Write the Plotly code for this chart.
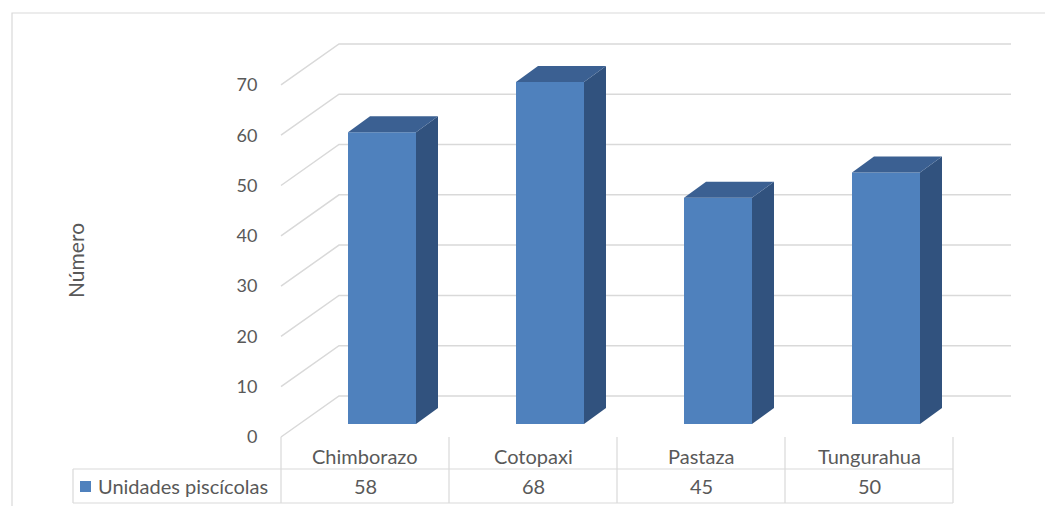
import plotly.graph_objects as go

# ---------------- data ----------------
categories = ["Chimborazo", "Cotopaxi", "Pastaza", "Tungurahua"]
values = [58, 68, 45, 50]
series_name = "Unidades piscícolas"
y_ticks = [0, 10, 20, 30, 40, 50, 60, 70]
y_title = "Número"

# ---------------- style / geometry ----------------
W, H = 1045, 506
FONT = "Lato"
TXT = "#595959"
GRID = "#d9d9d9"
FRONT = "#4f81bd"
SIDE = "#31527e"
TOP = "#3b6092"

PX_PER_CAT = 168.0
PX_PER_UNIT = 5.03
X0_PX = 365.0      # pixel of category 0 centre (front plane)
Y0_PX = 437.0      # pixel of value 0 (front plane)
ML = 276           # plot area left

# depth offsets (in data units)
DX, DY = 58 / PX_PER_CAT, 41 / PX_PER_UNIT          # front plane -> back wall
BX0, BY0 = 17 / PX_PER_CAT, 13 / PX_PER_UNIT        # front plane -> bar front face
BDX, BDY = 22 / PX_PER_CAT, 16 / PX_PER_UNIT        # bar depth
BW = 68 / PX_PER_CAT                                # bar width

x_range = [(ML - X0_PX) / PX_PER_CAT, (W - X0_PX) / PX_PER_CAT]
y_range = [(Y0_PX - H) / PX_PER_UNIT, Y0_PX / PX_PER_UNIT]

n = len(categories)
xs = list(range(n))
x_left, x_right = -0.5, n - 0.5


def py(px):
    """pixel row -> paper y"""
    return 1 - px / H


def pxx(px):
    """pixel column -> paper x (paper spans the plot area)"""
    return (px - ML) / (W - ML)


fig = go.Figure()

# front faces of the columns
fig.add_trace(go.Bar(
    x=[i + BX0 for i in xs], y=values, base=[BY0] * n, width=BW,
    marker=dict(color=FRONT, line=dict(width=0)),
    name=series_name, showlegend=False, hoverinfo="skip",
))

# side and top faces
for i, v in zip(xs, values):
    xl = i + BX0 - BW / 2
    xr = i + BX0 + BW / 2
    yb = BY0
    yt = BY0 + v
    fig.add_trace(go.Scatter(
        x=[xr, xr + BDX, xr + BDX, xr, xr],
        y=[yb, yb + BDY, yt + BDY, yt, yb],
        fill="toself", fillcolor=SIDE, mode="lines", line=dict(width=0),
        showlegend=False, hoverinfo="skip",
    ))
    fig.add_trace(go.Scatter(
        x=[xl, xr, xr + BDX, xl + BDX, xl],
        y=[yt, yt, yt + BDY, yt + BDY, yt],
        fill="toself", fillcolor=TOP, mode="lines", line=dict(width=0),
        showlegend=False, hoverinfo="skip",
    ))

shapes = []
# gridlines: diagonal on side wall + horizontal on back wall
for v in y_ticks:
    path = (f"M {x_left},{v} L {x_left + DX},{v + DY} "
            f"L {x_right + DX},{v + DY}")
    shapes.append(dict(type="path", path=path, xref="x", yref="y",
                       line=dict(color=GRID, width=1.5), layer="below"))

# data table lines
t_top, t_mid, t_bot = py(437), py(469), py(503)
for k in range(n + 1):
    shapes.append(dict(type="line", xref="x", yref="paper",
                       x0=x_left + k, x1=x_left + k, y0=t_top, y1=t_bot,
                       line=dict(color=GRID, width=1.2)))
# legend cell left border
LEG_L = pxx(73)
shapes.append(dict(type="line", xref="paper", yref="paper",
                   x0=LEG_L, x1=LEG_L, y0=t_mid, y1=t_bot,
                   line=dict(color=GRID, width=1.2)))
for yy in (t_mid, t_bot):
    shapes.append(dict(type="line", xref="paper", yref="paper",
                       x0=LEG_L, x1=pxx(X0_PX + PX_PER_CAT * x_right),
                       y0=yy, y1=yy, line=dict(color=GRID, width=1.2)))
# legend key square
shapes.append(dict(type="rect", xref="paper", yref="paper",
                   x0=pxx(80), x1=pxx(91), y0=py(492), y1=py(481),
                   fillcolor=FRONT, line=dict(width=0)))
# outer chart border
shapes.append(dict(type="rect", xref="paper", yref="paper",
                   x0=pxx(12), x1=pxx(1060), y0=py(520), y1=py(13),
                   line=dict(color=GRID, width=1.2)))

annotations = []
for i, c, v in zip(xs, categories, values):
    annotations.append(dict(x=i, y=py(456), xref="x", yref="paper",
                            text=c, showarrow=False, yanchor="middle",
                            font=dict(family=FONT, size=20, color=TXT)))
    annotations.append(dict(x=i, y=py(486), xref="x", yref="paper",
                            text=str(v), showarrow=False, yanchor="middle",
                            font=dict(family=FONT, size=20, color=TXT)))
annotations.append(dict(x=pxx(96), y=py(486), xref="paper", yref="paper",
                        text=series_name, showarrow=False, xanchor="left",
                        yanchor="middle",
                        font=dict(family=FONT, size=20, color=TXT)))
# y-axis title
annotations.append(dict(x=pxx(75), y=py(261), xref="paper", yref="paper",
                        text=y_title, showarrow=False, textangle=-90,
                        xanchor="center", yanchor="middle",
                        font=dict(family=FONT, size=21, color=TXT)))

fig.update_layout(
    width=W, height=H,
    margin=dict(l=ML, r=0, t=0, b=0),
    paper_bgcolor="white", plot_bgcolor="white",
    showlegend=False,
    shapes=shapes, annotations=annotations,
    font=dict(family=FONT, color=TXT),
)
fig.update_xaxes(range=x_range, showgrid=False, zeroline=False,
                 showticklabels=False, showline=False, fixedrange=True)
fig.update_yaxes(range=y_range, showgrid=False, zeroline=False,
                 showline=False, tickvals=y_ticks,
                 ticks="outside", ticklen=14, tickcolor="rgba(0,0,0,0)",
                 tickfont=dict(family=FONT, size=18, color=TXT),
                 automargin=False)

fig.write_html("out.html")
